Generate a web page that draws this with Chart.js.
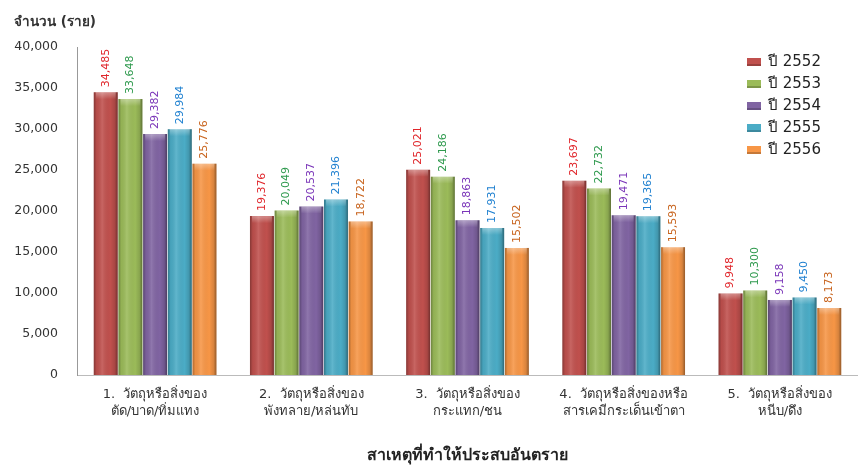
<!DOCTYPE html>
<html>
<head>
<meta charset="utf-8">
<script src="https://cdn.jsdelivr.net/npm/chart.js@4.4.0/dist/chart.umd.min.js"></script>
<style>
  html, body { margin: 0; padding: 0; background: #fff; }
  #wrap { width: 858px; height: 467px; }
</style>
</head>
<body>
<div id="wrap"><canvas id="myChart" width="858" height="467"></canvas></div>
<script>
// Categories (causes of injury)
const categories = [
    ['1.  วัตถุหรือสิ่งของ', 'ตัด/บาด/ทิ่มแทง'],
    ['2.  วัตถุหรือสิ่งของ', 'พังทลาย/หล่นทับ'],
    ['3.  วัตถุหรือสิ่งของ', 'กระแทก/ชน'],
    ['4.  วัตถุหรือสิ่งของหรือ', 'สารเคมีกระเด็นเข้าตา'],
    ['5.  วัตถุหรือสิ่งของ', 'หนีบ/ดึง'],
];

// Series names and values (cases)
const years = ['ปี 2552', 'ปี 2553', 'ปี 2554', 'ปี 2555', 'ปี 2556'];
const y2552 = [34485, 19376, 25021, 23697, 9948];
const y2553 = [33648, 20049, 24186, 22732, 10300];
const y2554 = [29382, 20537, 18863, 19471, 9158];
const y2555 = [29984, 21396, 17931, 19365, 9450];
const y2556 = [25776, 18722, 15502, 15593, 8173];

const barColors = ['#c0504d', '#9bbb59', '#8064a2', '#4bacc6', '#f79646'];
const labelColors = ['#e0262b', '#2f9a4e', '#7a35b8', '#1f80d0', '#c8641e'];

const FONT = '"DejaVu Sans", "Noto Sans", sans-serif';

const seriesData = [y2552, y2553, y2554, y2555, y2556];

// shading on bars + rotated value labels + legend + y title
const decorPlugin = {
    id: 'decor',
    afterDatasetsDraw(chart) {
        const ctx = chart.ctx;
        chart.data.datasets.forEach((ds, di) => {
            const meta = chart.getDatasetMeta(di);
            meta.data.forEach((bar, i) => {
                const left = bar.x - bar.width / 2;
                const top = bar.y;
                const h = bar.base - bar.y;
                const g = ctx.createLinearGradient(left, 0, left + bar.width, 0);
                g.addColorStop(0, 'rgba(0,0,0,0.30)');
                g.addColorStop(0.12, 'rgba(0,0,0,0.05)');
                g.addColorStop(0.35, 'rgba(255,255,255,0.12)');
                g.addColorStop(0.7, 'rgba(0,0,0,0.0)');
                g.addColorStop(0.88, 'rgba(0,0,0,0.12)');
                g.addColorStop(1, 'rgba(0,0,0,0.40)');
                ctx.save();
                ctx.fillStyle = g;
                ctx.fillRect(left, top, bar.width, h);
                // light cap on top
                const cg = ctx.createLinearGradient(0, top, 0, top + 7);
                cg.addColorStop(0, 'rgba(255,255,255,0.35)');
                cg.addColorStop(1, 'rgba(255,255,255,0)');
                ctx.fillStyle = cg;
                ctx.fillRect(left + 2, top, bar.width - 4, 7);
                ctx.restore();

                // value label, rotated
                const v = ds.data[i];
                ctx.save();
                ctx.translate(bar.x, bar.y - 5);
                ctx.rotate(-Math.PI / 2);
                ctx.font = '11px ' + FONT;
                ctx.fillStyle = labelColors[di];
                ctx.textAlign = 'left';
                ctx.textBaseline = 'middle';
                ctx.fillText(v.toLocaleString('en-US'), 0, 0);
                ctx.restore();
            });
        });

        // legend
        ctx.save();
        ctx.font = '15px ' + FONT;
        ctx.textBaseline = 'middle';
        ctx.textAlign = 'left';
        years.forEach((name, i) => {
            const cy = 62 + i * 22;
            ctx.fillStyle = barColors[i];
            ctx.fillRect(747, cy - 4, 14, 8);
            ctx.fillStyle = 'rgba(0,0,0,0.2)';
            ctx.fillRect(747, cy + 2, 14, 2);
            ctx.fillStyle = '#222';
            ctx.fillText(name, 768, cy);
        });
        // y axis title
        ctx.font = 'bold 13.5px ' + FONT;
        ctx.fillStyle = '#333';
        ctx.fillText('จำนวน (ราย)', 14, 22);
        ctx.restore();
    }
};

const ctx = document.getElementById('myChart').getContext('2d');

const chart = new Chart(ctx, {
    type: 'bar',
    data: {
        labels: categories,
        datasets: years.map((name, i) => ({
            label: name,
            data: seriesData[i],
            backgroundColor: barColors[i],
            borderWidth: 0,
            categoryPercentage: 0.79,
            barPercentage: 0.97,
        })),
    },
    options: {
        responsive: false,
        animation: false,
        layout: { padding: { top: 47, left: 0, right: 0, bottom: 0 } },
        plugins: {
            legend: { display: false },
            tooltip: { enabled: false },
        },
        scales: {
            x: {
                grid: { display: false, drawTicks: false },
                border: { color: '#bbb' },
                ticks: {
                    maxRotation: 0,
                    autoSkip: false,
                    padding: 11,
                    color: '#333',
                    font: { family: FONT, size: 13, lineHeight: 1.3 },
                },
                title: {
                    display: true,
                    text: 'สาเหตุที่ทำให้ประสบอันตราย',
                    color: '#222',
                    font: { family: FONT, size: 16, weight: 'bold' },
                    padding: { top: 0, bottom: 2 },
                },
                afterFit(scale) { scale.height = 92; },
            },
            y: {
                min: 0,
                max: 40000,
                ticks: {
                    stepSize: 5000,
                    color: '#333',
                    padding: 10,
                    font: { family: FONT, size: 12.5 },
                    callback: v => v.toLocaleString('en-US'),
                },
                grid: { display: false, drawTicks: true, tickLength: 9, tickColor: '#999' },
                border: { color: '#999' },
                afterFit(scale) { scale.width = 77; },
            },
        },
    },
    plugins: [decorPlugin],
});
</script>
</body>
</html>
